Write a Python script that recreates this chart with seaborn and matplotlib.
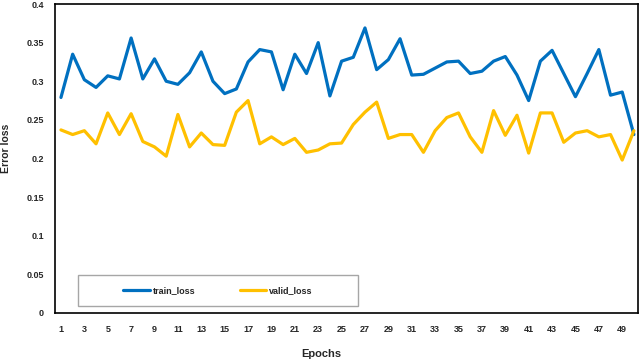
import numpy as np
import pandas as pd
import matplotlib
matplotlib.use("Agg")
import matplotlib.pyplot as plt
from matplotlib.patches import Rectangle
import seaborn as sns

epochs = list(range(1, 51))
train_loss = [0.279, 0.335, 0.302, 0.292, 0.307, 0.303, 0.356, 0.303, 0.329, 0.300,
              0.296, 0.311, 0.338, 0.300, 0.284, 0.290, 0.325, 0.341, 0.338, 0.289,
              0.335, 0.310, 0.350, 0.281, 0.326, 0.331, 0.369, 0.315, 0.328, 0.355,
              0.308, 0.309, 0.317, 0.325, 0.326, 0.310, 0.313, 0.326, 0.332, 0.308,
              0.275, 0.326, 0.340, 0.310, 0.280, 0.310, 0.341, 0.282, 0.286, 0.231]
valid_loss = [0.237, 0.231, 0.236, 0.219, 0.259, 0.231, 0.258, 0.222, 0.215, 0.203,
              0.257, 0.215, 0.233, 0.218, 0.217, 0.260, 0.275, 0.219, 0.228, 0.218,
              0.226, 0.208, 0.211, 0.219, 0.220, 0.244, 0.260, 0.273, 0.226, 0.231,
              0.231, 0.208, 0.236, 0.253, 0.259, 0.228, 0.208, 0.262, 0.230, 0.256,
              0.207, 0.259, 0.259, 0.221, 0.233, 0.236, 0.228, 0.231, 0.198, 0.236]
series_names = ["train_loss", "valid_loss"]
colors = ["#0070C0", "#FFC000"]
x_ticks = list(range(1, 50, 2))
y_ticks = [0, 0.05, 0.1, 0.15, 0.2, 0.25, 0.3, 0.35, 0.4]
y_tick_labels = ["0", "0.05", "0.1", "0.15", "0.2", "0.25", "0.3", "0.35", "0.4"]

df = pd.DataFrame({
    "Epochs": epochs * 2,
    "loss": train_loss + valid_loss,
    "series": [series_names[0]] * 50 + [series_names[1]] * 50,
})

sns.set_style("white")
plt.rcParams["font.family"] = ["Liberation Sans", "DejaVu Sans"]

fig = plt.figure(figsize=(6.4, 3.6), dpi=100)
ax = fig.add_axes([55 / 640, 1 - 313 / 360, 583 / 640, 309 / 360])

sns.lineplot(data=df, x="Epochs", y="loss", hue="series", palette=colors,
             linewidth=2.3, ax=ax, legend=True)

ax.set_xlim(0.49, 50.35)
ax.set_ylim(0, 0.4)
ax.set_xticks(x_ticks)
ax.set_xticklabels([str(t) for t in x_ticks], fontsize=6.5, fontweight="bold")
ax.set_yticks(y_ticks)
ax.set_yticklabels(y_tick_labels, fontsize=6.5, fontweight="bold")
ax.tick_params(axis="both", length=0)
ax.tick_params(axis="x", pad=9)
ax.tick_params(axis="y", pad=8)
for s in ax.spines.values():
    s.set_visible(True)
    s.set_color("black")
    s.set_linewidth(1.2)

ax.set_xlabel("Epochs", fontsize=8, fontweight="bold")
ax.xaxis.label.set_va("center")
ax.xaxis.set_label_coords((321 - 55) / 583, (313 - 354) / 309)
ax.set_ylabel("Error loss", fontsize=7.5, fontweight="bold")
ax.yaxis.label.set_va("center")
ax.yaxis.set_label_coords((6 - 55) / 583, (313 - 148) / 309)

# legend box
bx, by, bw, bh = (78 - 55) / 583, (313 - 306) / 309, (358 - 78) / 583, 31 / 309
ax.add_patch(Rectangle((bx, by), bw, bh, transform=ax.transAxes, fill=False,
                       edgecolor="#a6a6a6", linewidth=1.0, zorder=5))
handles, labels = ax.get_legend_handles_labels()
leg = ax.legend(handles, labels, loc="center", bbox_to_anchor=(bx + bw / 2, by + bh / 2),
                ncol=2, frameon=False, prop={"size": 6.5, "weight": "bold"},
                handlelength=2.9, handletextpad=0.3, columnspacing=5.0)
for line in leg.get_lines():
    line.set_linewidth(2.3)

fig.savefig("out.png", dpi=100)
